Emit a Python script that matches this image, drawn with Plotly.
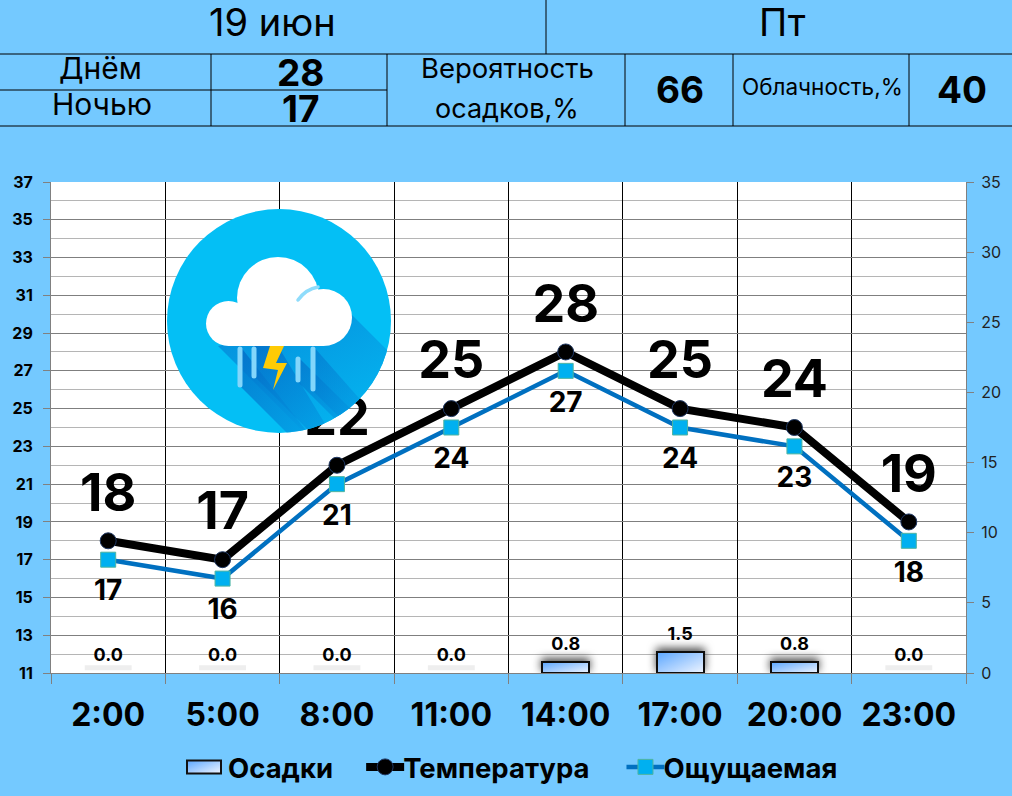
import base64
import plotly.graph_objects as go

hours = ['2:00', '5:00', '8:00', '11:00', '14:00', '17:00', '20:00', '23:00']
temp = [18, 17, 22, 25, 28, 25, 24, 19]
feels = [17, 16, 21, 24, 27, 24, 23, 18]
precip = [0.0, 0.0, 0.0, 0.0, 0.8, 1.5, 0.8, 0.0]

FONT = 'Inter, "Open Sans", sans-serif'
BG = '#74C9FF'

# plot area in pixels
PL, PR, PT, PB = 51, 966, 182, 673


def fx(x):
    return (x - PL) / (PR - PL)


def fy(y):
    return (PB - y) / (PB - PT)


icon_svg = """<svg xmlns="http://www.w3.org/2000/svg" viewBox="167 209 224 224">
<defs>
<clipPath id="c"><circle cx="279" cy="321" r="112"/></clipPath>
<linearGradient id="s1" x1="0.2" y1="0" x2="0.9" y2="0.9">
<stop offset="0" stop-color="#0591DD"/><stop offset="1" stop-color="#04B8F2"/></linearGradient>
<linearGradient id="s2" x1="0" y1="0" x2="0.8" y2="1">
<stop offset="0" stop-color="#0468c4"/><stop offset="1" stop-color="#0398e2"/></linearGradient>
</defs>
<circle cx="279" cy="321" r="112" fill="#04BFF5"/>
<g clip-path="url(#c)">
<polygon points="218,346 352,315 400,363 400,440 312,440" fill="url(#s1)"/>
<polygon points="240,346 240,386 292,438 312,438" fill="url(#s2)" opacity="0.75"/>
<polygon points="254,346 254,376 310,432 330,432 278,346" fill="url(#s2)" opacity="0.7"/>
<polygon points="298,357 298,382 340,424 354,412" fill="url(#s2)" opacity="0.6"/>
<polygon points="313,346 313,391 345,423 365,405" fill="url(#s2)" opacity="0.5"/>
</g>
<g fill="#fff">
<circle cx="228.5" cy="323.5" r="22.5"/>
<circle cx="278" cy="298" r="41"/>
<circle cx="323.5" cy="317.5" r="28.5"/>
<rect x="228" y="305" width="96" height="41"/>
</g>
<path d="M298,300 Q306,289 318,287" stroke="#8FDCFB" stroke-width="3.5" fill="none" stroke-linecap="round"/>
<g stroke="#83D6FB" stroke-width="5" stroke-linecap="round">
<line x1="240" y1="349" x2="240" y2="385"/>
<line x1="254" y1="349" x2="254" y2="376"/>
<line x1="298" y1="359" x2="298" y2="380"/>
<line x1="313" y1="349" x2="313" y2="389"/>
</g>
<polygon points="270,346 284,346 276,363 287,363 273,390 278,370 263,368" fill="#FFCB05"/>
</svg>"""
icon_src = 'data:image/svg+xml;base64,' + base64.b64encode(icon_svg.encode()).decode()

fig = go.Figure()

# осадки на правой оси
fig.add_trace(go.Bar(
    x=hours, y=precip, name='Осадки', yaxis='y2', width=0.41,
    marker=dict(color='#A9D2FF', line=dict(color='#111111', width=2)),
))
fig.add_trace(go.Scatter(
    x=hours, y=temp, name='Температура', mode='lines+markers',
    line=dict(color='black', width=8),
    marker=dict(symbol='circle', size=16, color='black', line=dict(color='#1F3864', width=1)),
))
fig.add_trace(go.Scatter(
    x=hours, y=feels, name='Ощущаемая', mode='lines+markers',
    line=dict(color='#0070C0', width=4.5),
    marker=dict(symbol='square', size=15, color='#00B0F0', line=dict(color='#4FB4A0', width=1)),
))

# подписи отдельно: невидимый маркер задаёт отступ текста от точки
fig.add_trace(go.Scatter(
    x=hours, y=precip, yaxis='y2', mode='markers+text', showlegend=False, hoverinfo='skip',
    marker=dict(size=10, opacity=0),
    text=['%.1f' % v for v in precip], textposition='top center',
    textfont=dict(family=FONT, size=18, color='black', weight=700),
))
fig.add_trace(go.Scatter(
    x=hours, y=temp, mode='markers+text', showlegend=False, hoverinfo='skip',
    marker=dict(size=26, opacity=0),
    text=temp, textposition='top center',
    textfont=dict(family=FONT, size=52, color='black', weight=700),
))
fig.add_trace(go.Scatter(
    x=hours, y=feels, mode='markers+text', showlegend=False, hoverinfo='skip',
    marker=dict(size=30, opacity=0),
    text=feels, textposition='bottom center',
    textfont=dict(family=FONT, size=28, color='black', weight=700),
))

shapes = []
# таблица сверху
for x0, y0, x1, y1 in [
    (0, 54, 1012, 54), (0, 90, 387, 90), (0, 126, 1012, 126), (546, 0, 546, 54),
    (211, 54, 211, 126), (387, 54, 387, 126), (625, 54, 625, 126),
    (733, 54, 733, 126), (909, 54, 909, 126),
]:
    shapes.append(dict(type='line', xref='paper', yref='paper', x0=fx(x0), x1=fx(x1),
                       y0=fy(y0), y1=fy(y1), line=dict(color='black', width=1)))
# тень от нулевых столбиков
for i, v in enumerate(precip):
    if v == 0:
        shapes.append(dict(type='rect', xref='x', yref='y2', x0=i - 0.205, x1=i + 0.205,
                           y0=0.2, y1=0.55, fillcolor='#EEEEEE', line=dict(width=0), layer='above'))

annotations = []
for text, x, y, size, bold in [
    ('19 июн', 272, 22, 38, False), ('Пт', 782, 22, 38, False),
    ('Днём', 100, 68, 30, False), ('Ночью', 102, 104, 30, False),
    ('28', 300, 72, 37, True), ('17', 300, 108, 37, True),
    ('Вероятность', 507, 68, 27.5, False), ('осадков,%', 507, 108, 27, False),
    ('66', 680, 90, 37, True), ('Облачность,%', 822, 87, 22.5, False), ('40', 962, 90, 37, True),
]:
    annotations.append(dict(text=text, xref='paper', yref='paper', x=fx(x), y=fy(y), showarrow=False,
                            xanchor='center', yanchor='middle',
                            font=dict(family=FONT, size=size, color='black', weight=700 if bold else 400)))

fig.update_layout(
    width=1012, height=796,
    margin=dict(l=PL, r=1012 - PR, t=PT, b=796 - PB, pad=0),
    paper_bgcolor=BG, plot_bgcolor='white',
    barmode='overlay', bargap=0,
    shapes=shapes, annotations=annotations,
    images=[dict(source=icon_src, xref='paper', yref='paper', x=fx(167), y=fy(209),
                 sizex=224 / (PR - PL), sizey=224 / (PB - PT), xanchor='left', yanchor='top',
                 sizing='stretch', layer='above')],
    xaxis=dict(type='category', categoryorder='array', categoryarray=hours, range=[-0.5, 7.5],
               tickson='boundaries', showgrid=True, gridcolor='black', gridwidth=1,
               ticks='outside', ticklen=10, tickcolor='#808080', showline=True, linecolor='#808080',
               tickfont=dict(family=FONT, size=32, color='black', weight=700), ticklabelstandoff=14),
    yaxis=dict(range=[11, 37], tick0=11, dtick=2, showgrid=True, gridcolor='#7F7F7F', gridwidth=1,
               minor=dict(dtick=1, tick0=11, showgrid=True, gridcolor='#B5B5B5', gridwidth=1),
               ticks='outside', ticklen=7, tickcolor='#808080', showline=True, linecolor='#808080',
               zeroline=False, ticklabelstandoff=7,
               tickfont=dict(family=FONT, size=16, color='black', weight=700)),
    yaxis2=dict(range=[0, 35], dtick=5, overlaying='y', side='right', showgrid=False, zeroline=False,
                ticks='outside', ticklen=7, tickcolor='#808080', showline=True, linecolor='#808080',
                ticklabelstandoff=4, tickfont=dict(family=FONT, size=16, color='#222222')),
    showlegend=True,
    # легенда внутри области не двигает поля, на место её ставит скрипт ниже
    legend=dict(orientation='h', x=0.2, xanchor='left', y=0.5, yanchor='middle',
                bgcolor='rgba(0,0,0,0)', itemwidth=38, tracegroupgap=0, traceorder='normal',
                font=dict(family=FONT, size=27.5, color='black', weight=700)),
)

# градиент и тень столбиков и раскладка легенды, в plotly их нет
post = """
document.body.style.margin = 0;
var gd = document.getElementById('{plot_id}');
var svg = gd.querySelector('.main-svg');
svg.querySelector('defs').insertAdjacentHTML('beforeend',
  '<linearGradient id="bargrad" x1="0" y1="0" x2="1" y2="1">' +
  '<stop offset="0" stop-color="#5AA6FF"/><stop offset="1" stop-color="#F0F5FF"/></linearGradient>' +
  '<filter id="barshadow" x="-30%" y="-150%" width="160%" height="300%">' +
  '<feDropShadow dx="0" dy="-3" stdDeviation="4" flood-color="#000" flood-opacity="0.7"/></filter>');
gd.querySelectorAll('.bars .point path').forEach(function (p) {
  p.style.fill = 'url(#bargrad)';
  p.style.filter = 'url(#barshadow)';
});
gd.querySelectorAll('.legend .legendpoints path.legendundefined').forEach(function (p) {
  p.setAttribute('d', 'M17,6.5H-17V-6.5H17Z');
  p.style.fill = 'url(#bargrad)';
});
var legend = gd.querySelector('.legend');
var legendH = parseFloat(legend.querySelector('.bg').getAttribute('height'));
legend.setAttribute('transform', 'translate(180,' + (767 - legendH / 2) + ')');
legend.querySelector('.scrollbox').removeAttribute('clip-path');
legend.removeAttribute('clip-path');
var extra = [0, 17, 38];
legend.querySelectorAll('.traces').forEach(function (t, i) {
  var m = /translate\\(([-\\d.]+)[, ]+([-\\d.]+)\\)/.exec(t.getAttribute('transform'));
  t.setAttribute('transform', 'translate(' + (parseFloat(m[1]) + extra[i]) + ',' + m[2] + ')');
  if (i > 0) t.querySelector('.layers').setAttribute('transform', 'translate(6,0)');
});
"""

fig.write_html("out.html", post_script=post, config=dict(displayModeBar=False))
